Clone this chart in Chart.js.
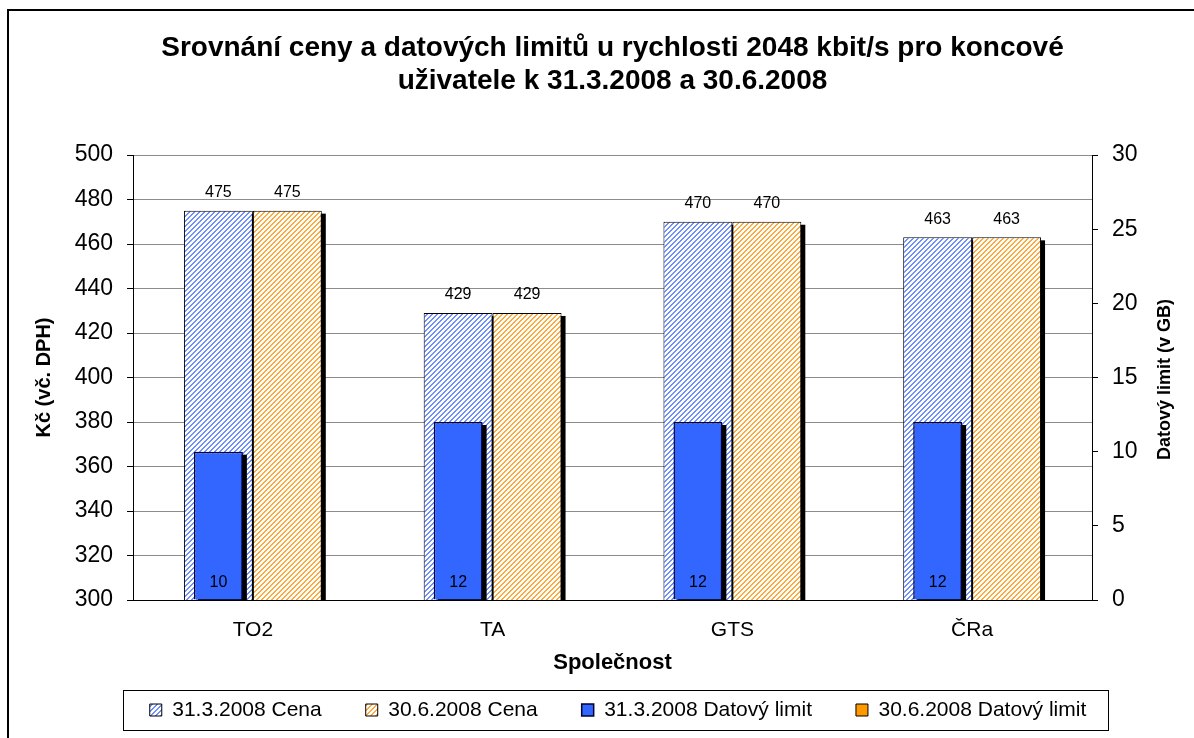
<!DOCTYPE html>
<html>
<head>
<meta charset="utf-8">
<script src="https://cdn.jsdelivr.net/npm/chart.js@4.4.1/dist/chart.umd.min.js"></script>
<style>
  html, body { margin: 0; padding: 0; background: #fff; }
</style>
</head>
<body>
<canvas id="srovnani" width="1194" height="738"></canvas>
<script>
const spolecnosti = ['TO2', 'TA', 'GTS', 'ČRa'];
const cena31_3 = [475, 429, 470, 463];
const cena30_6 = [475, 429, 470, 463];
const limit31_3 = [10, 12, 12, 12];
const limit30_6 = [null, null, null, null];
const cenaTicks = [300, 320, 340, 360, 380, 400, 420, 440, 460, 480, 500];
const limitTicks = [0, 5, 10, 15, 20, 25, 30];

Chart.defaults.font.family = '"Liberation Sans", Arial, sans-serif';
Chart.defaults.color = '#000';

// srafovani "/" jako v Excelu
function srafovani(barva) {
    const n = 5;
    const c = document.createElement('canvas');
    c.width = n;
    c.height = n;
    const g = c.getContext('2d');
    g.fillStyle = '#fff';
    g.fillRect(0, 0, n, n);
    g.fillStyle = barva;
    for (let x = 0; x < n; x++) {
        for (let y = 0; y < n; y++) {
            if ((x + y) % n < 2) g.fillRect(x, y, 1, 1);
        }
    }
    return g.createPattern(c, 'repeat');
}

const ramecek = {
    id: 'ramecek',
    beforeDraw(chart) {
        const ctx = chart.ctx;
        ctx.save();
        ctx.fillStyle = '#fff';
        ctx.fillRect(0, 0, chart.width, chart.height);
        ctx.strokeStyle = '#000';
        ctx.lineWidth = 2;
        ctx.strokeRect(8, 10, chart.width + 20, chart.height + 20);
        ctx.restore();
    },
    // cerny stin vpravo dole pod kazdym sloupcem
    beforeDatasetDraw(chart, args) {
        const ctx = chart.ctx;
        const area = chart.chartArea;
        const data = chart.data.datasets[args.index].data;
        ctx.save();
        ctx.beginPath();
        ctx.rect(area.left, area.top, area.right - area.left, area.bottom - area.top);
        ctx.clip();
        ctx.fillStyle = '#000';
        args.meta.data.forEach((bar, j) => {
            if (data[j] === null) return;
            const p = bar.getProps(['x', 'y', 'base', 'width']);
            ctx.fillRect(p.x - p.width / 2 + 4, p.y + 3, p.width, p.base - p.y);
        });
        ctx.restore();
    },
    afterDatasetsDraw(chart) {
        const ctx = chart.ctx;
        ctx.save();
        ctx.font = '16px "Liberation Sans", Arial, sans-serif';
        ctx.fillStyle = '#000';
        ctx.textAlign = 'center';
        ctx.textBaseline = 'middle';
        chart.data.datasets.forEach((ds, i) => {
            const meta = chart.getDatasetMeta(i);
            meta.data.forEach((bar, j) => {
                const v = ds.data[j];
                if (v === null) return;
                if (ds.yAxisID === 'y') {
                    ctx.fillText(v, bar.x, bar.y - 18);
                } else {
                    ctx.fillText(v, bar.x, bar.base - 17);
                }
            });
        });
        ctx.restore();
    },
    afterDraw(chart) {
        const ctx = chart.ctx;
        const area = chart.chartArea;
        ctx.save();
        // nazev prave osy
        ctx.translate(1165, (area.top + area.bottom) / 2 + 2);
        ctx.rotate(-Math.PI / 2);
        ctx.font = 'bold 18px "Liberation Sans", Arial, sans-serif';
        ctx.fillStyle = '#000';
        ctx.textAlign = 'center';
        ctx.textBaseline = 'middle';
        ctx.fillText('Datový limit (v GB)', 0, 0);
        ctx.restore();

        // ramecek legendy
        const boxes = chart.legend.legendHitBoxes;
        if (!boxes || !boxes.length) return;
        const first = boxes[0];
        const last = boxes[boxes.length - 1];
        const cy = first.top + first.height / 2;
        const x1 = Math.round(first.left - 27) + 0.5;
        const x2 = Math.round(last.left + last.width + 22) + 0.5;
        ctx.save();
        ctx.strokeStyle = '#000';
        ctx.lineWidth = 1;
        ctx.strokeRect(x1, Math.round(cy - 20) + 0.5, x2 - x1, 40);
        ctx.restore();
    }
};

new Chart(document.getElementById('srovnani'), {
    type: 'bar',
    data: {
        labels: spolecnosti,
        datasets: [{
            label: '31.3.2008 Cena',
            data: cena31_3,
            yAxisID: 'y',
            stack: 'prvni',
            order: 3,
            backgroundColor: srafovani('#6f8fff'),
            borderColor: '#000',
            borderWidth: 1,
            barPercentage: 1,
            categoryPercentage: 0.575,
            clip: 0
        }, {
            label: '30.6.2008 Cena',
            data: cena30_6,
            yAxisID: 'y',
            stack: 'druhy',
            order: 2,
            backgroundColor: srafovani('#ffaa3c'),
            borderColor: '#000',
            borderWidth: 1,
            barPercentage: 1,
            categoryPercentage: 0.575,
            clip: 0
        }, {
            label: '31.3.2008 Datový limit',
            data: limit31_3,
            yAxisID: 'y1',
            stack: 'prvni',
            order: 0,
            backgroundColor: '#3366ff',
            borderColor: '#000033',
            borderWidth: 1.5,
            barPercentage: 0.71,
            categoryPercentage: 0.575,
            clip: 0
        }, {
            label: '30.6.2008 Datový limit',
            data: limit30_6,
            yAxisID: 'y1',
            stack: 'druhy',
            order: 1,
            backgroundColor: '#ff9900',
            borderColor: '#000',
            borderWidth: 1,
            barPercentage: 0.71,
            categoryPercentage: 0.575,
            clip: 0
        }]
    },
    options: {
        responsive: false,
        animation: false,
        layout: {
            padding: { left: 42, right: 0, top: 0, bottom: 7.5 }
        },
        plugins: {
            title: {
                display: true,
                fullSize: false,
                text: ['Srovnání ceny a datových limitů u rychlosti 2048 kbit/s pro koncové',
                       'uživatele k 31.3.2008 a 30.6.2008'],
                color: '#000',
                font: { size: 28, weight: 'bold' },
                padding: { top: 31, bottom: 56.8 }
            },
            legend: {
                position: 'bottom',
                labels: {
                    color: '#000',
                    font: { size: 21 },
                    boxWidth: 12,
                    boxHeight: 12,
                    padding: 44,
                    sort: (a, b) => a.datasetIndex - b.datasetIndex
                }
            },
            tooltip: { enabled: false }
        },
        scales: {
            x: {
                stacked: true,
                grid: { display: false, drawTicks: false },
                border: { color: '#000' },
                ticks: { color: '#000', font: { size: 21 }, padding: 18 },
                title: {
                    display: true,
                    text: 'Společnost',
                    color: '#000',
                    font: { size: 22, weight: 'bold' },
                    padding: { top: 0, bottom: -20.7 }
                },
                afterFit: (s) => { s.height = 55.5; }
            },
            y: {
                position: 'left',
                min: 300,
                max: 500,
                stacked: false,
                afterBuildTicks: (s) => { s.ticks = cenaTicks.map(v => ({ value: v })); },
                grid: { color: '#8c8c8c', tickColor: '#000', tickLength: 6 },
                border: { color: '#000' },
                ticks: { color: '#000', font: { size: 23 }, padding: 14 },
                title: {
                    display: true,
                    text: 'Kč (vč. DPH)',
                    color: '#000',
                    font: { size: 20, weight: 'bold' },
                    padding: { top: -10, bottom: 0 }
                },
                afterFit: (s) => { s.width = 91; }
            },
            y1: {
                position: 'right',
                min: 0,
                max: 30,
                stacked: false,
                afterBuildTicks: (s) => { s.ticks = limitTicks.map(v => ({ value: v })); },
                grid: { drawOnChartArea: false, tickColor: '#000', tickLength: 6 },
                border: { color: '#000' },
                ticks: { color: '#000', font: { size: 23 }, padding: 14 },
                afterFit: (s) => { s.width = 102; }
            }
        }
    },
    plugins: [ramecek]
});
</script>
</body>
</html>
